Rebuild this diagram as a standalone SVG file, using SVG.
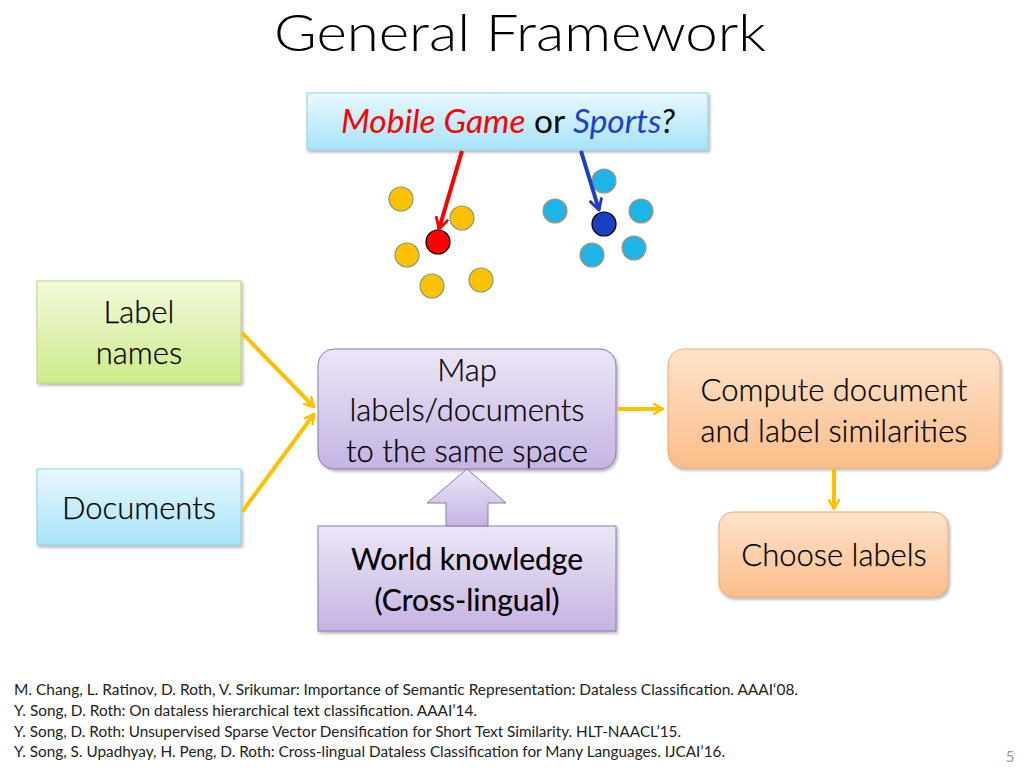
<svg xmlns="http://www.w3.org/2000/svg" width="1024" height="768" viewBox="0 0 1024 768">
<defs>
<linearGradient id="gBlue" x1="0" y1="0" x2="0" y2="1"><stop offset="0" stop-color="#e9f8fe"/><stop offset="1" stop-color="#a6e3f8"/></linearGradient>
<linearGradient id="gGreen" x1="0" y1="0" x2="0" y2="1"><stop offset="0" stop-color="#f2fadc"/><stop offset="1" stop-color="#cdeb8b"/></linearGradient>
<linearGradient id="gPurple" x1="0" y1="0" x2="0" y2="1"><stop offset="0" stop-color="#ece6f6"/><stop offset="1" stop-color="#c5b4e3"/></linearGradient>
<linearGradient id="gOrange" x1="0" y1="0" x2="0" y2="1"><stop offset="0" stop-color="#fee3cb"/><stop offset="1" stop-color="#fbbd8a"/></linearGradient>
<filter id="sh" x="-10%" y="-10%" width="125%" height="130%"><feDropShadow dx="1.5" dy="2" stdDeviation="1.5" flood-color="#000" flood-opacity="0.3"/></filter>
<marker id="ay" viewBox="0 0 12 12" refX="10" refY="6" markerWidth="12" markerHeight="12" markerUnits="userSpaceOnUse" orient="auto"><path d="M1,1 L10,6 L1,11" fill="none" stroke="#ffc000" stroke-width="2.5" stroke-linecap="round" stroke-linejoin="round"/></marker>
<marker id="ar" viewBox="0 0 12 12" refX="10" refY="6" markerWidth="14" markerHeight="14" markerUnits="userSpaceOnUse" orient="auto"><path d="M1,1 L10,6 L1,11" fill="none" stroke="#ff0000" stroke-width="2.5" stroke-linecap="round" stroke-linejoin="round"/></marker>
<marker id="ab" viewBox="0 0 12 12" refX="10" refY="6" markerWidth="14" markerHeight="14" markerUnits="userSpaceOnUse" orient="auto"><path d="M1,1 L10,6 L1,11" fill="none" stroke="#1f3fbf" stroke-width="2.5" stroke-linecap="round" stroke-linejoin="round"/></marker>
</defs>
<style>
text{font-family:Lato,"Open Sans","Liberation Sans",sans-serif;fill:#000}
.t{font-size:31px;font-weight:300;text-anchor:middle;stroke:#000;stroke-width:0.25}
.w{font-size:30px;font-weight:400;text-anchor:middle;stroke:#000;stroke-width:0.15}
.dot{stroke-width:1.2}
.ref{font-size:14.5px;fill:#222}
.conn{stroke:#ffc000;stroke-width:4;fill:none}
</style>
<rect width="1024" height="768" fill="#fff"/>
<text x="520" y="51" style="font-size:52px;font-weight:300;text-anchor:middle" textLength="492" lengthAdjust="spacingAndGlyphs">General Framework</text>

<g id="question">
<rect x="307" y="93" width="401" height="57" fill="url(#gBlue)" stroke="#8ecfe6" filter="url(#sh)"/>
<text x="508" y="133" style="font-size:32px;font-weight:400;text-anchor:middle" textLength="334" lengthAdjust="spacingAndGlyphs"><tspan fill="#ff0000" font-style="italic">Mobile Game</tspan> or <tspan fill="#1f3fcf" font-style="italic">Sports</tspan><tspan font-style="italic">?</tspan></text>
</g>

<g id="clusters">
<g fill="#ffc000" stroke="#7f9f7f" class="dot">
<circle cx="401" cy="199" r="12"/><circle cx="462" cy="218" r="12"/><circle cx="407" cy="255" r="12"/><circle cx="432" cy="286" r="12"/><circle cx="481" cy="280" r="12"/>
</g>
<circle cx="438" cy="242" r="12" fill="#ff0000" stroke="#000" stroke-width="1.2"/>
<g fill="#1eb4e8" stroke="#c09060" class="dot">
<circle cx="604" cy="181" r="12"/><circle cx="555" cy="211" r="12"/><circle cx="641" cy="211" r="12"/><circle cx="592" cy="255" r="12"/><circle cx="634" cy="248" r="12"/>
</g>
<circle cx="604" cy="224" r="12" fill="#1a3fc0" stroke="#000" stroke-width="1.2"/>
</g>

<g id="labelnames">
<rect x="37" y="281" width="204" height="102" fill="url(#gGreen)" stroke="#b5d57a" filter="url(#sh)"/>
<text class="t" x="139" y="323">Label</text>
<text class="t" x="139" y="364">names</text>
</g>

<g id="documents">
<rect x="37" y="469" width="204" height="76" fill="url(#gBlue)" stroke="#8ecfe6" filter="url(#sh)"/>
<text class="t" x="139" y="519">Documents</text>
</g>

<g id="map">
<rect x="318" y="349" width="298" height="120" rx="16" fill="url(#gPurple)" stroke="#8a78b0" filter="url(#sh)"/>
<text class="t" x="467" y="381">Map</text>
<text class="t" x="467" y="421">labels/documents</text>
<text class="t" x="467" y="462">to the same space</text>
</g>

<g id="compute">
<rect x="668" y="349" width="332" height="119" rx="16" fill="url(#gOrange)" stroke="#f0a878" filter="url(#sh)"/>
<text class="t" x="834" y="401">Compute document</text>
<text class="t" x="834" y="442">and label similarities</text>
</g>

<g id="choose">
<rect x="719" y="512" width="229" height="85" rx="14" fill="url(#gOrange)" stroke="#f0a878" filter="url(#sh)"/>
<text class="t" x="834" y="566">Choose labels</text>
</g>

<g id="world">
<rect x="318" y="526" width="298" height="105" fill="url(#gPurple)" stroke="#8a78b0" filter="url(#sh)"/>
<text class="w" x="467" y="570">World knowledge</text>
<text class="w" x="467" y="611">(Cross-lingual)</text>
</g>

<g id="connectors">
<line x1="462" y1="151" x2="439" y2="229" stroke="#ff0000" stroke-width="4" marker-end="url(#ar)"/>
<line x1="581" y1="151" x2="599" y2="210" stroke="#1f3fbf" stroke-width="4" marker-end="url(#ab)"/>
<line class="conn" x1="242" y1="333" x2="314" y2="407" marker-end="url(#ay)"/>
<line class="conn" x1="242" y1="512" x2="314" y2="414" marker-end="url(#ay)"/>
<line class="conn" x1="617" y1="409" x2="663" y2="409" marker-end="url(#ay)"/>
<line class="conn" x1="834" y1="469" x2="834" y2="509" marker-end="url(#ay)"/>
<path d="M446,526 L446,503 L427,503 L467,469 L506,503 L488,503 L488,526 Z" fill="url(#gPurple)" stroke="#8a78b0" stroke-width="1"/>
</g>

<g id="references">
<text class="ref" x="14" y="695" textLength="784" lengthAdjust="spacingAndGlyphs">M. Chang, L. Ratinov, D. Roth, V. Srikumar: Importance of Semantic Representation: Dataless Classification. AAAI‘08.</text>
<text class="ref" x="14" y="716" textLength="463" lengthAdjust="spacingAndGlyphs">Y. Song, D. Roth: On dataless hierarchical text classification. AAAI’14.</text>
<text class="ref" x="14" y="737" textLength="667" lengthAdjust="spacingAndGlyphs">Y. Song, D. Roth: Unsupervised Sparse Vector Densification for Short Text Similarity. HLT-NAACL’15.</text>
<text class="ref" x="14" y="757" textLength="711" lengthAdjust="spacingAndGlyphs">Y. Song, S. Upadhyay, H. Peng, D. Roth: Cross-lingual Dataless Classification for Many Languages. IJCAI’16.</text>
<text x="1010" y="762" style="font-size:15px;fill:#999;text-anchor:middle">5</text>
</g>
</svg>
